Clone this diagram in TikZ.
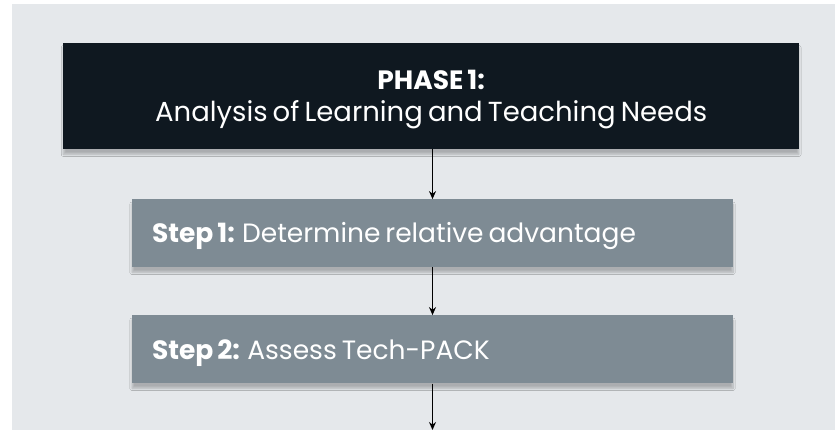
\documentclass[tikz,border=0pt]{standalone}
\usepackage{fontspec}
\setmainfont{Poppins}[WordSpace=0.7]
\usetikzlibrary{arrows.meta,shadows.blur}
\definecolor{bgc}{HTML}{E5E8EB}
\definecolor{phasec}{HTML}{0F1820}
\definecolor{stepc}{HTML}{7E8B94}
\tikzset{
  boxshadow/.style={blur shadow={shadow xshift=0pt, shadow yshift=-5pt, shadow blur steps=8, shadow opacity=25}},
  phasebox/.style={fill=phasec, minimum width=735.5pt, minimum height=106.5pt, inner sep=0pt, boxshadow},
  phasetext/.style={text=white, inner sep=0pt, anchor=base, font=\fontsize{26.5}{30}\selectfont},
  stepbox/.style={fill=stepc, minimum width=601pt, minimum height=68pt, inner sep=0pt, boxshadow},
  steptext/.style={text=white, inner sep=0pt, anchor=base west, font=\fontsize{26.5}{30}\selectfont},
  flow/.style={draw=black, line width=1.2pt, -{Stealth[length=8pt,width=7pt]}}
}
\begin{document}
\begin{tikzpicture}[x=1pt,y=-1pt]
\useasboundingbox (0,0) rectangle (835,430);
\fill[white] (0,0) rectangle (835,430);
\fill[bgc] (12,4) rectangle (835,430);
\node[phasebox] (phase) at (431.2,96) {};
\node[phasetext] (phaseA) at (431.2,89.5) {\bfseries PHASE 1:};
\node[phasetext, font=\fontsize{27.5}{30}\selectfont] (phaseB) at (431.2,121.5) {Analysis of Learning and Teaching Needs};
\node[stepbox] (s1) at (432.5,233.3) {};
\node[steptext] (s1t) at ([xshift=20pt,yshift=-9.7pt]s1.west) {\textbf{Step 1:} Determine relative advantage};
\node[stepbox] (s2) at (432.5,349.3) {};
\node[steptext] (s2t) at ([xshift=20pt,yshift=-9.7pt]s2.west) {\textbf{Step 2:} Assess Tech-PACK};
\coordinate (end) at (s2.south |- 0,430);
\draw[flow] (phase.south -| s1.north) -- (s1.north);
\draw[flow] (s1.south) -- (s2.north);
\draw[flow] (s2.south) -- (end);
\end{tikzpicture}
\end{document}
